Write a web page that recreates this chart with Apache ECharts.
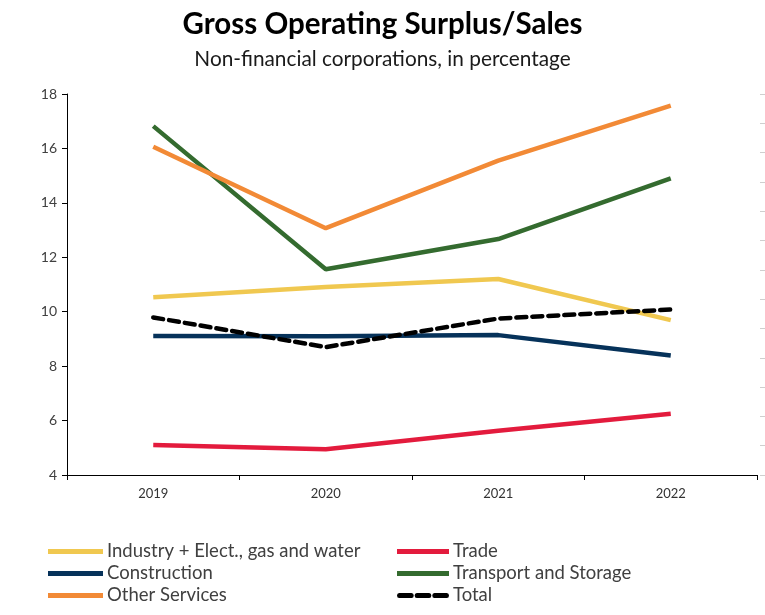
<!doctype html>
<html>
  <head>
    <meta charset="utf-8">
    <title>Gross Operating Surplus/Sales</title>
    <script src="https://cdn.jsdelivr.net/npm/echarts@6/dist/echarts.min.js"></script>
    <style>
      html, body { margin: 0; padding: 0; background: #FFFFFF; }
      #chart { width: 765px; height: 615px; }
    </style>
  </head>
  <body>
    <div id="chart"></div>
    <script type="text/javascript">
      // data
      var years = ['2019', '2020', '2021', '2022'];
      var industry = [10.53, 10.91, 11.20, 9.69];
      var trade = [5.10, 4.95, 5.63, 6.25];
      var construction = [9.11, 9.10, 9.14, 8.39];
      var transport = [16.82, 11.56, 12.67, 14.90];
      var otherServices = [16.06, 13.07, 15.55, 17.57];
      var total = [9.79, 8.70, 9.75, 10.08];

      var font = 'Lato';
      var barIcon = 'path://M0,0h56v5h-56z';
      var dashIcon = 'path://M1,0h14a1,1 0 0 1 0,5h-14a1,1 0 0 1 0,-5z M21,0h14a1,1 0 0 1 0,5h-14a1,1 0 0 1 0,-5z M41,0h14a1,1 0 0 1 0,5h-14a1,1 0 0 1 0,-5z';

      function lineSeries(name, data, color, dashed) {
        return {
          name: name,
          type: 'line',
          data: data,
          symbol: 'none',
          lineStyle: {
            color: color,
            width: 4.5,
            type: dashed ? [10, 6] : 'solid',
            cap: dashed ? 'round' : 'butt'
          },
          itemStyle: { color: color }
        };
      }

      var legendText = { fontFamily: font, fontSize: 18.5, lineHeight: 21, color: '#404040', padding: [0, 0, 0, -1] };

      var myChart = echarts.init(document.getElementById('chart'));
      myChart.setOption({
        animation: false,
        title: {
          text: 'Gross Operating Surplus/Sales',
          subtext: 'Non-financial corporations, in percentage',
          left: 'center',
          top: 4,
          itemGap: 10,
          textStyle: { fontFamily: font, fontSize: 29.5, fontWeight: 'bold', color: '#000000' },
          subtextStyle: { fontFamily: font, fontSize: 20.8, color: '#1a1a1a' }
        },
        legend: [{
          data: [
            { name: 'Industry + Elect., gas and water', icon: barIcon },
            { name: 'Construction', icon: barIcon },
            { name: 'Other Services', icon: barIcon }
          ],
          orient: 'vertical',
          left: 48,
          top: 541,
          padding: 0,
          itemWidth: 55,
          itemHeight: 5,
          itemGap: 1,
          symbolKeepAspect: false,
          textStyle: legendText
        }, {
          data: [
            { name: 'Trade', icon: barIcon },
            { name: 'Transport and Storage', icon: barIcon },
            { name: 'Total', icon: dashIcon }
          ],
          orient: 'vertical',
          left: 397,
          top: 541,
          padding: 0,
          itemWidth: 52,
          itemHeight: 5,
          itemGap: 1,
          symbolKeepAspect: false,
          textStyle: legendText
        }],
        grid: { left: 67, right: 8, top: 94, bottom: 140, containLabel: false, outerBoundsMode: 'none' },
        xAxis: {
          type: 'category',
          data: years,
          boundaryGap: true,
          axisLine: { lineStyle: { color: '#000000', width: 1 } },
          axisTick: { show: true, length: 5, inside: false, lineStyle: { color: '#000000' } },
          axisLabel: { fontFamily: font, fontSize: 13, color: '#333333', margin: 12 },
          splitLine: { show: false }
        },
        yAxis: [{
          type: 'value',
          min: 4,
          max: 18,
          interval: 2,
          axisLine: { show: true, lineStyle: { color: '#000000', width: 1 } },
          axisTick: { show: true, length: 5, lineStyle: { color: '#000000' } },
          axisLabel: { fontFamily: font, fontSize: 14, color: '#404040', margin: 10 },
          splitLine: { show: false }
        }, {
          type: 'value',
          position: 'right',
          offset: 3,
          min: 0,
          max: 13,
          interval: 1,
          axisLine: { show: false },
          axisTick: { show: true, inside: false, length: 5, lineStyle: { color: '#cfcfcf' } },
          axisLabel: { show: false },
          splitLine: { show: false }
        }],
        series: [
          lineSeries('Industry + Elect., gas and water', industry, '#F0C850', false),
          lineSeries('Trade', trade, '#E31B3D', false),
          lineSeries('Construction', construction, '#06325A', false),
          lineSeries('Transport and Storage', transport, '#346B2F', false),
          lineSeries('Other Services', otherServices, '#F28A36', false),
          lineSeries('Total', total, '#000000', true)
        ]
      });
    </script>
  </body>
</html>
